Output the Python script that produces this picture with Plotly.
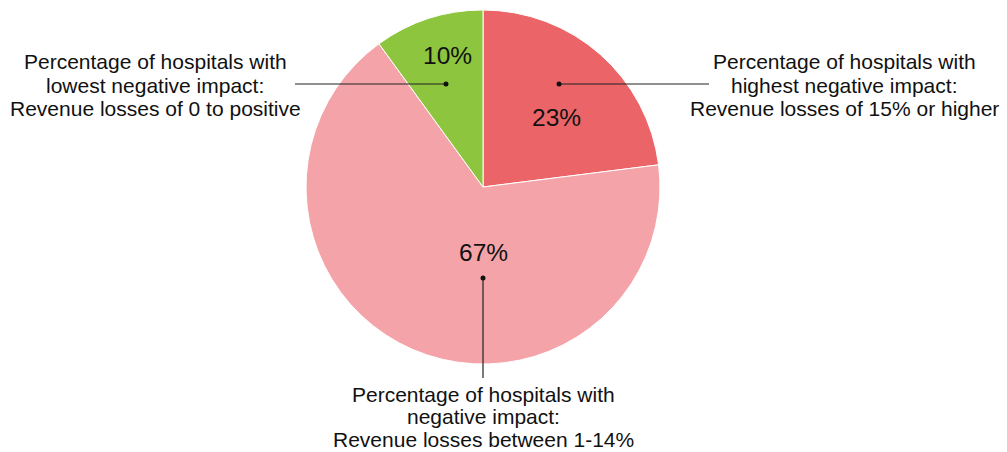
import plotly.graph_objects as go

W, H = 1007, 452

categories = ["Highest negative impact", "Negative impact", "Lowest negative impact"]
values = [23, 67, 10]
colors = ["#EB6568", "#F4A4A8", "#8DC53F"]
pct_labels = [f"{v}%" for v in values]
descriptions = [
    ["Percentage of hospitals with", "highest negative impact:", "Revenue losses of 15% or higher"],
    ["Percentage of hospitals with", "negative impact:", "Revenue losses between 1-14%"],
    ["Percentage of hospitals with", "lowest negative impact:", "Revenue losses of 0 to positive"],
]

def px(x):
    return x / W

def py(y):
    return 1 - y / H

fig = go.Figure()
fig.add_trace(go.Pie(
    labels=categories,
    values=values,
    sort=False,
    direction="clockwise",
    rotation=0,
    marker=dict(colors=colors, line=dict(color="white", width=1)),
    textinfo="none",
    hoverinfo="label+percent",
    showlegend=False,
    domain=dict(x=[px(306), px(660)], y=[py(364), py(10)]),
))

FONT = "Liberation Sans, Arial, sans-serif"

# percentage labels placed inside slices
pct_pos = [(556, 117), (483, 252), (447, 55)]
for lab, (x, y) in zip(pct_labels, pct_pos):
    fig.add_annotation(x=px(x), y=py(y), xref="paper", yref="paper", text=lab,
                       showarrow=False, font=dict(family=FONT, size=24.5, color="#111"),
                       xanchor="center", yanchor="middle")

# description blocks (line centers)
desc_pos = [
    (844, [62, 85, 108]),
    (483, [394, 416, 439]),
    (155, [62, 85, 108]),
]
for lines, (cx, ys) in zip(descriptions, desc_pos):
    for t, y in zip(lines, ys):
        fig.add_annotation(x=px(cx), y=py(y), xref="paper", yref="paper", text=t,
                           showarrow=False, font=dict(family=FONT, size=21, color="#111"),
                           xanchor="center", yanchor="middle")

# leader lines and dots
leaders = [
    ((559, 84), (709, 84)),
    ((483, 278), (483, 378)),
    ((446, 84), (295, 84)),
]
for (x0, y0), (x1, y1) in leaders:
    fig.add_shape(type="line", xref="paper", yref="paper",
                  x0=px(x0), y0=py(y0), x1=px(x1), y1=py(y1),
                  line=dict(color="#222", width=1.2))
    r = 2.5
    fig.add_shape(type="circle", xref="paper", yref="paper",
                  x0=px(x0 - r), x1=px(x0 + r), y0=py(y0 + r), y1=py(y0 - r),
                  fillcolor="#111", line=dict(color="#111", width=0))

fig.update_layout(
    width=W, height=H,
    margin=dict(l=0, r=0, t=0, b=0),
    paper_bgcolor="white", plot_bgcolor="white",
    font=dict(family=FONT),
)

fig.write_html("out.html")
